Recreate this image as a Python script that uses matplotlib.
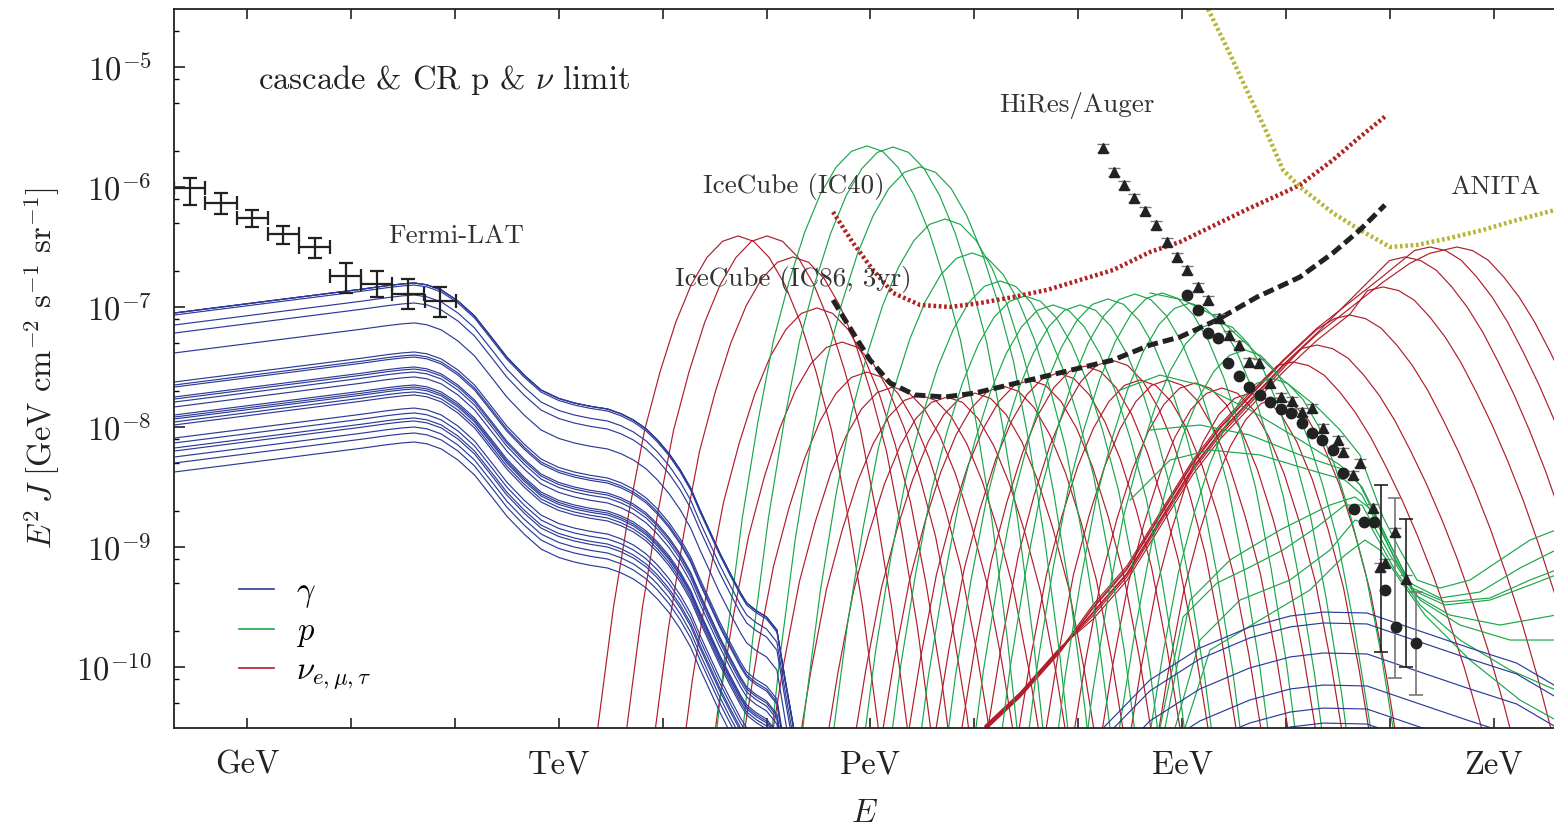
import numpy as np
import matplotlib.pyplot as plt
from matplotlib.lines import Line2D
from matplotlib.ticker import NullLocator

plt.rcParams['font.family'] = ['cmr10']
plt.rcParams['mathtext.fontset'] = 'cm'
plt.rcParams['axes.unicode_minus'] = False

BLUE = '#2c3b99'
GREEN = '#1aa64b'
RED = '#b01c2a'
INK = '#222222'
TXT = '#333333'

# all values: log10(E / GeV) and log10(E^2 J / GeV cm^-2 s^-1 sr^-1)

# Fermi-LAT diffuse gamma data (value and error range, in 1e-7)
fermi_logE = [-0.55, -0.25, 0.05, 0.35, 0.65, 0.95, 1.25, 1.55, 1.86]
fermi_val = [9.8, 7.36, 5.52, 4.06, 3.16, 1.81, 1.56, 1.28, 1.12]
fermi_lo = [7.1, 5.96, 4.64, 3.35, 2.56, 1.31, 1.21, 0.96, 0.825]
fermi_hi = [11.9, 8.91, 6.43, 4.73, 3.76, 2.33, 2.0, 1.71, 1.47]
fermi_halfbin = 0.15

# HiRes (triangles) and Auger (circles)
hires_logE = [8.24, 8.345, 8.44, 8.54, 8.64, 8.75, 8.855, 8.95, 9.05, 9.15, 9.25, 9.355,
              9.45, 9.55, 9.645, 9.74, 9.845, 9.95, 10.06, 10.155, 10.25, 10.355, 10.5,
              10.55, 10.645, 10.71, 10.84, 10.905, 10.955, 11.05, 11.155]
hires_logF = [-5.675, -5.875, -5.983, -6.092, -6.2, -6.317, -6.458, -6.583, -6.692, -6.833,
              -6.942, -7.092, -7.233, -7.317, -7.458, -7.467, -7.633, -7.75, -7.783, -7.875,
              -7.842, -8.008, -8.108, -8.208, -8.4, -8.3, -8.675, -9.167, -9.133, -8.875, -9.267]
auger_logE = [9.05, 9.15, 9.25, 9.345, 9.44, 9.55, 9.645, 9.75, 9.845, 9.95, 10.05, 10.155,
              10.25, 10.345, 10.45, 10.55, 10.655, 10.75, 10.845, 10.955, 11.06, 11.25]
auger_logF = [-6.9, -7.025, -7.217, -7.258, -7.467, -7.575, -7.667, -7.733, -7.792, -7.85,
              -7.883, -7.967, -8.05, -8.108, -8.192, -8.383, -8.683, -8.792, -8.792, -9.358,
              -9.667, -9.8]
# large error bars (logE, low, high)
bar_black_logE = [10.91, 11.155]
bar_black_lo = [-9.875, -9.999]
bar_black_hi = [-8.483, -8.767]
bar_grey_logE = [11.05, 11.25]
bar_grey_lo = [-10.092, -10.233]
bar_grey_hi = [-8.592, -9.375]

# IceCube limits and ANITA
ic86_logE = [5.64, 5.804, 5.996, 6.189, 6.429, 6.718, 7.007, 7.411, 7.854, 8.335, 8.691,
             8.98, 9.336, 9.721, 9.971, 10.135, 10.452, 10.712, 10.953]
ic86_logF = [-6.942, -7.175, -7.442, -7.633, -7.733, -7.75, -7.717, -7.633, -7.542, -7.442,
             -7.317, -7.25, -7.108, -6.917, -6.817, -6.75, -6.55, -6.358, -6.15]
ic40_logE = [5.64, 5.833, 6.025, 6.218, 6.477, 6.766, 7.055, 7.372, 7.70, 8.017, 8.335,
             8.691, 8.98, 9.336, 9.653, 9.971, 10.135, 10.452, 10.712, 10.972]
ic40_logF = [-6.208, -6.467, -6.692, -6.883, -6.983, -7.0, -6.967, -6.917, -6.858, -6.775,
             -6.692, -6.542, -6.458, -6.308, -6.175, -6.05, -5.983, -5.775, -5.583, -5.4]
anita_logE = [9.18, 9.249, 9.442, 9.653, 9.817, 9.971, 10.135, 10.452, 10.712, 11.001,
              11.261, 11.578, 11.896, 12.223, 12.6]
anita_logF = [-4.35, -4.517, -4.858, -5.25, -5.55, -5.858, -6.0, -6.217, -6.358, -6.5,
              -6.483, -6.425, -6.358, -6.275, -6.19]

# gamma-ray cascade spectra: common shape, left-edge level of each model
gam_shape_logE = [-0.70, 0.51, 1.10, 1.35, 1.50, 1.61, 1.73, 1.87, 2.03, 2.19, 2.35, 2.50,
                  2.67, 2.83, 3.0, 3.15, 3.30, 3.47, 3.60, 3.72, 3.84, 3.95, 4.06, 4.17,
                  4.27, 4.36, 4.46, 4.55, 4.65, 4.75, 4.81, 4.90, 5.00, 5.10, 5.18, 5.26, 5.32]
gam_shape_dF = [0, 0.133, 0.198, 0.228, 0.243, 0.25, 0.235, 0.192, 0.10, -0.025, -0.20,
                -0.367, -0.52, -0.642, -0.712, -0.75, -0.777, -0.80, -0.84, -0.892, -0.965,
                -1.058, -1.17, -1.308, -1.46, -1.642, -1.83, -2.0, -2.17, -2.333, -2.417,
                -2.48, -2.533, -2.642, -3.058, -3.45, -3.75]
gam_level = [-7.05, -7.05, -7.05, -7.067, -7.15, -7.217, -7.383, -7.625, -7.65, -7.667,
             -7.75, -7.767, -7.792, -7.833, -7.9, -7.917, -7.933, -7.958, -7.983, -8.092,
             -8.133, -8.175, -8.2, -8.25, -8.3, -8.375]

# high energy gamma spectra: shape and peak level
gamhe_shape_logE = [8.16, 8.24, 8.69, 9.17, 9.65, 10.04, 10.36, 10.78, 11.26, 11.74, 12.22,
                    12.58, 13.02]
gamhe_shape_dF = [-1.066, -0.966, -0.566, -0.30, -0.125, -0.033, 0, -0.008, -0.15, -0.291,
                  -0.425, -0.608, -0.9]
gamhe_peak = [-9.542, -9.633, -9.883, -10.15, -10.342, -10.467]

# bump shape shared by proton and neutrino source spectra (offset from the peak)
bump_half_dE = [0, 0.15, 0.3, 0.45, 0.6, 0.75, 0.9, 1.05, 1.2, 1.35, 1.5, 1.65]
bump_half_dF = [0, -0.045, -0.18, -0.405, -0.72, -1.13, -1.62, -2.3, -3.1, -4.1, -5.3, -6.6]

p_peak_logE = [5.967, 6.217, 6.477, 6.718, 6.978, 7.247, 7.488, 7.757, 8.017, 8.287, 8.547,
               8.807, 9.076, 9.336, 9.605, 9.865]
p_peak_logF = [-5.658, -5.667, -5.833, -6.267, -6.55, -6.783, -6.908, -6.983, -6.983, -6.933,
               -6.892, -6.883, -6.967, -7.125, -7.358, -7.592]

nu_peak_logE = [4.726, 5.005, 5.255, 5.486, 5.727, 5.967, 6.217, 6.477, 6.737, 7.007, 7.276,
                7.536, 7.806, 8.065, 8.325, 8.595, 8.855, 9.124, 9.384, 9.653, 9.913]
nu_peak_logF = [-6.408, -6.408, -6.583, -7.008, -7.292, -7.542, -7.667, -7.733, -7.75, -7.717,
                -7.658, -7.608, -7.55, -7.492, -7.442, -7.608, -7.608, -7.633, -7.675, -7.717,
                -7.758]

# high energy neutrino spectra: common rising edge, then each turns over at its peak
nuhe_rise_logE = [7.103, 7.44, 7.825, 8.142, 8.47, 8.787, 9.105, 9.365, 9.653, 9.971, 10.298,
                  10.616, 10.934, 11.194, 11.386]
nuhe_rise_logF = [-10.508, -10.233, -9.858, -9.542, -9.217, -8.775, -8.333, -8.042, -7.775,
                  -7.483, -7.217, -7.0, -6.783, -6.625, -6.542]
# how far each curve sits from the common edge at the lowest points / higher up
nuhe_spread_low = [0.0, 0.01, -0.01, 0.02, 0.0, -0.02, 0.01]
nuhe_spread_high = [0.06, -0.03, 0.03, -0.06, 0.0, 0.04, -0.01]
nuhe_peak_logE = [10.067, 10.298, 10.616, 10.934, 11.146, 11.386, 11.646]
nuhe_peak_logF = [-7.458, -7.317, -7.067, -6.833, -6.583, -6.5, -6.5]
nuhe_leave = [8, 9, 10, 11, 10, 12, 14]   # last rising point used by each curve
nuhe_tail_dE = [-0.15, 0, 0.15, 0.3, 0.45, 0.6, 0.75, 0.9, 1.05, 1.2, 1.35, 1.5, 1.65, 1.8, 1.95, 2.1]
nuhe_tail_dF = [-0.03, 0, -0.03, -0.11, -0.25, -0.42, -0.63, -0.88, -1.15, -1.45, -1.78, -2.15,
                -2.55, -3.0, -3.5, -4.0]

# proton spectra of distant sources (pile-up and GZK cut-off)
gzk_curves = [
    ([8.691, 9.009, 9.336, 9.653, 9.971, 10.298, 10.520, 10.712, 10.934, 11.097, 11.261, 11.482, 11.771, 12.060, 12.348, 12.598],
     [-6.883, -6.942, -7.083, -7.333, -7.608, -7.833, -8.025, -8.233, -8.75, -9.025, -9.275, -9.342, -9.275, -9.108, -8.942, -8.858]),
    ([8.402, 8.787, 9.172, 9.653, 10.135, 10.520, 10.712, 10.953, 11.193, 11.482, 11.867, 12.252, 12.598],
     [-7.692, -7.567, -7.65, -7.858, -8.108, -8.317, -8.483, -8.9, -9.3, -9.425, -9.375, -9.175, -9.025]),
    ([8.691, 9.172, 9.653, 10.135, 10.568, 10.732, 10.982, 11.213, 11.530, 11.963, 12.348, 12.598],
     [-8.025, -7.983, -8.067, -8.233, -8.358, -8.5, -8.942, -9.342, -9.458, -9.425, -9.275, -9.192]),
    ([8.499, 8.884, 9.269, 9.750, 10.231, 10.568, 10.732, 10.982, 11.213, 11.530, 11.963, 12.348, 12.598],
     [-8.608, -8.275, -8.192, -8.233, -8.358, -8.442, -8.567, -8.983, -9.358, -9.483, -9.442, -9.317, -9.233]),
    ([8.835, 9.076, 9.461, 9.942, 10.423, 10.664, 10.828, 11.049, 11.290, 11.675, 12.156, 12.598],
     [-10.508, -9.442, -9.108, -8.858, -8.65, -8.583, -8.692, -9.108, -9.442, -9.65, -9.775, -9.775]),
    ([8.787, 9.009, 9.336, 9.653, 9.971, 10.298, 10.568, 10.732, 11.001, 11.242, 11.578, 12.060, 12.598],
     [-10.508, -9.583, -9.3, -9.167, -9.025, -8.833, -8.65, -8.65, -9.067, -9.4, -9.567, -9.65, -9.567]),
    ([8.932, 9.172, 9.557, 10.038, 10.423, 10.664, 10.808, 11.049, 11.290, 11.675, 12.156, 12.598],
     [-10.508, -9.775, -9.442, -9.275, -9.025, -8.775, -8.817, -9.192, -9.483, -9.775, -10.025, -10.192]),
    ([9.028, 9.269, 9.750, 10.231, 10.568, 10.760, 10.905, 11.097, 11.338, 11.771, 12.252, 12.598],
     [-10.508, -9.858, -9.608, -9.358, -9.067, -8.942, -9.025, -9.275, -9.567, -9.942, -10.275, -10.442]),
]

fig = plt.figure(figsize=(15.54, 8.27), dpi=100)
ax = fig.add_axes([174 / 1554, 1 - 728 / 827, 1381.5 / 1554, 719 / 827])
ax.set_xscale('log')
ax.set_yscale('log')


def draw(logE, logF, color, lw=0.85, **kw):
    ax.plot(10.0 ** np.asarray(logE), 10.0 ** np.asarray(logF), color=color, lw=lw,
            solid_joinstyle='round', **kw)


bump_dE = np.concatenate([-np.array(bump_half_dE[:0:-1]), bump_half_dE])
bump_dF = np.concatenate([np.array(bump_half_dF[:0:-1]), bump_half_dF])

# neutrinos
for e0, f0 in zip(nu_peak_logE, nu_peak_logF):
    draw(e0 + bump_dE, f0 + bump_dF, RED)
for e0, f0, k, s_lo, s_hi in zip(nuhe_peak_logE, nuhe_peak_logF, nuhe_leave,
                                 nuhe_spread_low, nuhe_spread_high):
    rise = np.array(nuhe_rise_logF[:k + 1])
    rise[:3] += s_lo
    rise[3:] += s_hi
    xs = list(nuhe_rise_logE[:k + 1]) + list(e0 + np.array(nuhe_tail_dE))
    ys = list(rise) + list(f0 + np.array(nuhe_tail_dF))
    draw(xs, ys, RED)

# protons
for e0, f0 in zip(p_peak_logE, p_peak_logF):
    draw(e0 + bump_dE, f0 + bump_dF, GREEN)
for xs, ys in gzk_curves:
    draw(xs, ys, GREEN)

# gamma rays
for lev in gam_level:
    draw(gam_shape_logE, lev + np.array(gam_shape_dF), BLUE)
for pk in gamhe_peak:
    draw(gamhe_shape_logE, pk + np.array(gamhe_shape_dF), BLUE)

# limits
draw(ic40_logE, ic40_logF, '#b22222', lw=3.2, linestyle=(0, (0.6, 0.6)),
     dash_capstyle='butt')
draw(anita_logE, anita_logF, '#b8b436', lw=3.2, linestyle=(0, (0.6, 0.6)),
     dash_capstyle='butt')
draw(ic86_logE, ic86_logF, INK, lw=3.6, linestyle=(0, (2.2, 1.0)), dash_capstyle='butt')

# Fermi-LAT
fx = 10.0 ** np.array(fermi_logE)
fy = np.array(fermi_val) * 1e-7
ax.errorbar(fx, fy,
            xerr=[fx - 10.0 ** (np.array(fermi_logE) - fermi_halfbin),
                  10.0 ** (np.array(fermi_logE) + fermi_halfbin) - fx],
            yerr=[fy - np.array(fermi_lo) * 1e-7, np.array(fermi_hi) * 1e-7 - fy],
            fmt='none', ecolor=INK, elinewidth=1.6, capsize=5, capthick=1.6, zorder=5)

# UHECR data
hx = 10.0 ** np.array(hires_logE)
hy = 10.0 ** np.array(hires_logF)
ax.errorbar(hx, hy, yerr=[hy - hy * 10 ** -0.035, hy * 10 ** 0.035 - hy], fmt='none',
            ecolor='#777777', elinewidth=1.0, capsize=4, capthick=1.0, zorder=5)
for xs, lo, hi, col in [(bar_black_logE, bar_black_lo, bar_black_hi, INK),
                        (bar_grey_logE, bar_grey_lo, bar_grey_hi, '#777777')]:
    bx = 10.0 ** np.array(xs)
    ylo = 10.0 ** np.array(lo)
    yhi = 10.0 ** np.array(hi)
    ymid = np.sqrt(ylo * yhi)
    ax.errorbar(bx, ymid, yerr=[ymid - ylo, yhi - ymid], fmt='none', ecolor=col,
                elinewidth=1.2, capsize=5, capthick=1.2, zorder=5)
ax.plot(hx, hy, '^', color=INK, ms=7, mec=INK, zorder=6)
ax.plot(10.0 ** np.array(auger_logE), 10.0 ** np.array(auger_logF), 'o', color=INK,
        ms=7.5, zorder=6)

# axes
ax.set_xlim(10 ** -0.703, 10 ** 12.594)
ax.set_xticks([10.0 ** k for k in range(0, 13)])
ax.set_xticklabels(['GeV' if k == 0 else 'TeV' if k == 3 else 'PeV' if k == 6 else
                    'EeV' if k == 9 else 'ZeV' if k == 12 else '' for k in range(0, 13)])
ax.xaxis.set_minor_locator(NullLocator())
ax.set_yticks([10.0 ** k for k in range(-10, -4)])
ax.set_yticklabels(['$10^{%d}$' % k for k in range(-10, -4)])
ax.set_yticks([m * 10.0 ** k for k in range(-11, -4) for m in (2, 5, 8)], minor=True)
ax.yaxis.set_minor_formatter(plt.NullFormatter())
ax.tick_params(axis='x', which='major', direction='in', length=7, width=1.2, top=True,
               pad=16, labelsize=23.5, colors=INK)
ax.tick_params(axis='y', which='major', direction='in', length=8, width=1.2, right=False,
               pad=16, labelsize=23.5, colors=INK)
ax.tick_params(axis='y', which='minor', direction='in', length=3.5, width=1.0, right=False)
ax.set_ylim(10 ** -10.508, 10 ** -4.517)
for s in ax.spines.values():
    s.set_linewidth(1.3)
    s.set_color(INK)

ax.set_xlabel('$E$', fontsize=23.5, color=INK, labelpad=14)
ax.set_ylabel(r'$E^2\, J\ [\mathrm{GeV\ cm^{-2}\ s^{-1}\ sr^{-1}}]$', fontsize=23.5,
              color=INK, labelpad=10)

# labels
ax.text(10 ** 0.106, 10 ** -5.108, r'cascade & CR p & $\nu$ limit', fontsize=23.5,
        color=INK, va='center')
ax.text(10 ** 1.357, 10 ** -6.408, 'Fermi-LAT', fontsize=19.5, color=TXT, va='center')
ax.text(10 ** 4.389, 10 ** -6.0, 'IceCube (IC40)', fontsize=19.5, color=TXT, va='center')
ax.text(10 ** 4.119, 10 ** -6.77, 'IceCube (IC86, 3yr)', fontsize=19.5, color=TXT,
        va='center')
ax.text(10 ** 7.238, 10 ** -5.32, 'HiRes/Auger', fontsize=19.5, color=TXT, va='center')
ax.text(10 ** 11.578, 10 ** -6.0, 'ANITA', fontsize=19.5, color=TXT, va='center')

handles = [Line2D([], [], color=BLUE, lw=1.2), Line2D([], [], color=GREEN, lw=1.2),
           Line2D([], [], color=RED, lw=1.2)]
ax.legend(handles, [r'$\gamma$', r'$p$', r'$\nu_{e,\mu,\tau}$'], loc='lower left',
          bbox_to_anchor=(0.026, 0.009), frameon=False, fontsize=23.5, handlelength=1.05,
          handletextpad=0.7, labelspacing=0.22)

fig.savefig('out.png', dpi=100)
